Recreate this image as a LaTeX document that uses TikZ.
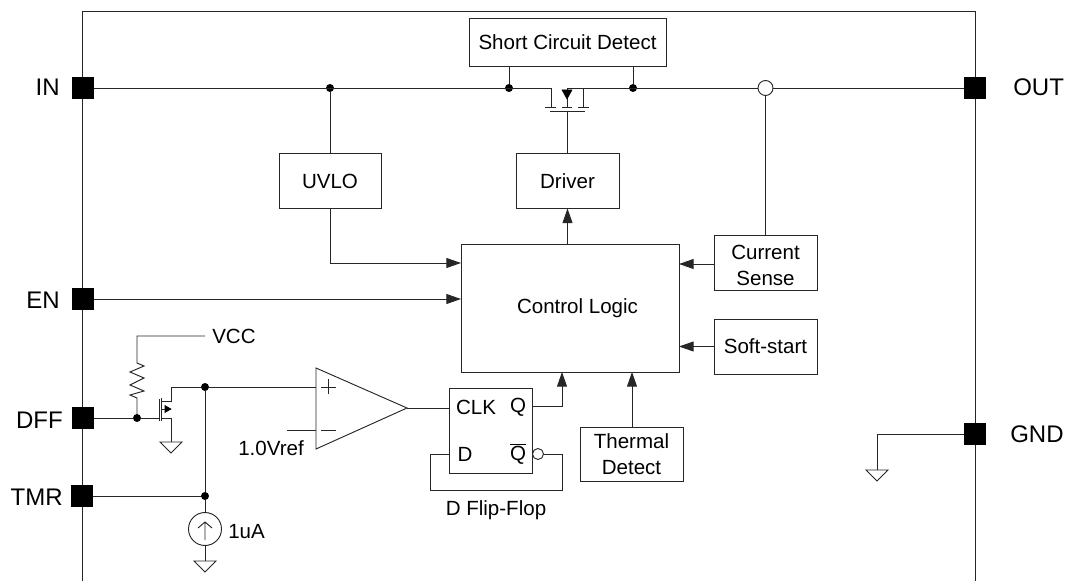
\documentclass[tikz,border=0pt]{standalone}
\usepackage{fontspec}
\setmainfont{Liberation Sans}
\usetikzlibrary{arrows.meta}
\begin{document}
\begin{tikzpicture}[
    x=0.75pt,
    y=-0.75pt,
    wire/.style={line width=0.7pt, draw=black!85},
    flow/.style={wire, -{Triangle[length=11pt,width=7.5pt]}},
    block/.style n args={2}{
        draw=black!85,
        line width=0.7pt,
        rectangle,
        align=center,
        font=\fontsize{15.4}{19}\selectfont,
        inner sep=0pt,
        outer sep=0pt,
        minimum width=#1*0.75pt,
        minimum height=#2*0.75pt
    },
    pin/.style={fill=black, rectangle, inner sep=0pt, outer sep=0pt, minimum size=16.5pt},
    pinlabel/.style={font=\fontsize{18}{20}\selectfont, inner sep=0pt},
    label/.style={font=\fontsize{15.4}{19}\selectfont, align=center, inner sep=0pt},
    dot/.style={fill=black, circle, inner sep=0pt, outer sep=0pt, minimum size=6pt},
    hollow/.style={wire, fill=white, circle, inner sep=0pt, outer sep=0pt, minimum size=#1*0.75pt},
    gnd/.pic={\draw[wire] (-11,0) -- (11,0) -- (0,11) -- cycle;}
]

\useasboundingbox (0,0) rectangle (1069,581);

\draw[wire] (82,581) -- (82,11) -- (975,11) -- (975,581);

\node[pin] (in) at (83,88) {};
\node[pin] (en) at (83,299) {};
\node[pin] (dff) at (83,418) {};
\node[pin] (tmr) at (82,496) {};
\node[pin] (out) at (975,88) {};
\node[pin] (gndpin) at (975,434) {};
\node[pinlabel, anchor=east] (inlabel) at (60,87) {IN};
\node[pinlabel, anchor=east] (enlabel) at (60,300) {EN};
\node[pinlabel, anchor=east] (dfflabel) at (63,420) {DFF};
\node[pinlabel, anchor=east] (tmrlabel) at (63,497) {TMR};
\node[pinlabel, anchor=west] (outlabel) at (1013,87) {OUT};
\node[pinlabel, anchor=west] (gndlabel) at (1010,434) {GND};

\node[block={197}{48}] (short) at (567.5,42) {Short Circuit Detect};
\node[block={102}{55}] (uvlo) at (330,181) {UVLO};
\node[block={103}{55}] (driver) at (567.5,181) {Driver};
\node[block={218}{128}] (logic) at (570,308) {};
\node[label] (logiclabel) at (577.5,308) {Control Logic};
\node[block={103}{55}] (sense) at (765.5,262.5) {};
\node[label] (senselabel) at (765.5,265.5) {Current\\Sense};
\node[block={103}{55}] (soft) at (765.5,346.5) {Soft-start};
\node[block={103}{54}] (thermal) at (631.5,454) {Thermal\\Detect};
\node[block={83}{85}] (flop) at (490.5,430.5) {};
\node[label] (clk) at (476,407) {CLK};
\node[label] (q) at (518,407) {Q};
\node[label] (d) at (465,454) {D};
\node[label] (qbar) at (518,454) {$\overline{\mbox{Q}}$};
\node[label] (flopname) at (496,510) {D Flip-Flop};

\node[dot] (j1) at (330,88) {};
\node[dot] (j2) at (509,88) {};
\node[dot] (j3) at (633,88) {};
\node[dot] (j4) at (137,418) {};
\node[dot] (j5) at (205,387) {};
\node[dot] (j6) at (205,496) {};
\node[hollow=15] (cross) at (765.5,88) {};
\node[hollow=11] (bubble) at (538,454) {};

\coordinate (drain) at (551,88);
\coordinate (source) at (567,88);
\coordinate (gate) at (567,111);
\coordinate (plus) at (316,387);
\coordinate (minus) at (316,430);
\coordinate (tip) at (407,408);

\draw[wire] (in) -- (drain) -- (551,107);
\draw[wire] (545,107) -- (556,107);
\draw[wire] (562,107) -- (572,107);
\draw[wire] (578,107) -- (589,107);
\draw[wire] (550,111) -- (585,111);
\draw[wire] (583,107) -- (583,88) -- (source) -- (567,107);
\draw[fill=black] (562,90) -- (572,90) -- (567,99) -- cycle;
\draw[wire] (583,88) -- (cross);
\draw[wire] (cross) -- (out);
\draw[wire] (short.south -| j2) -- (j2);
\draw[wire] (short.south -| j3) -- (j3);
\draw[wire] (driver.north -| gate) -- (gate);
\draw[wire] (j1) -- (uvlo);
\draw[flow] (uvlo.south) |- (logic.west |- 0,263);
\draw[flow] (en) -- (logic.west |- en);
\draw[flow] (logic.north -| driver) -- (driver);
\draw[wire] (sense.north -| cross) -- (cross);
\draw[flow] (sense.west |- 0,264) -- (logic.east |- 0,264);
\draw[flow] (soft) -- (logic.east |- soft);
\draw[flow] (thermal.north -| 632,0) -- (logic.south -| 632,0);

\draw[wire] (316,368) -- (316,449) -- (tip) -- cycle;
\draw[wire] (j5) -- (plus);
\draw[wire] (321,387) -- (336,387);
\draw[wire] (328,379) -- (328,394);
\draw[wire] (287,430) -- (minus);
\draw[wire] (321,430) -- (336,430);
\node[label] (vref) at (271,448) {1.0Vref};
\draw[wire] (tip) -- (flop.west |- tip);
\draw[flow] (flop.east |- 0,406) -- (562,406) -- (logic.south -| 562,0);
\draw[wire] (bubble) -- (562,454) -- (562,490) -- (430,490) -- (430,454) -- (flop.west |- bubble);

\draw[wire] (dff) -- (j4) -- (159,418);
\draw[wire] (159,399) -- (159,421);
\draw[wire] (161,398) -- (161,421);
\draw[wire] (j5) -- (171,387) -- (171,401) -- (161,401);
\draw[wire] (161,418) -- (171,418) -- (171,442);
\draw[wire] (161,409) -- (171,409);
\draw[fill=black] (171,409) -- (165,405.5) -- (165,412.5) -- cycle;
\pic at (171,442) {gnd};
\draw[wire] (j4) -- (137,398) -- (130,395) -- (144,391) -- (130,385) -- (144,378) -- (130,372) -- (144,366) -- (137,363) -- (137,336) -- (205,336);
\node[label, anchor=west] (vcc) at (212,336) {VCC};

\draw[wire] (tmr) -- (j6);
\draw[wire] (j5) -- (j6);
\node[hollow=33] (isrc) at (205,529) {};
\draw[wire] (j6) -- (isrc);
\draw[wire] (205,540) -- (205,522) (198,528) -- (205,522) -- (212,528);
\draw[wire] (isrc) -- (205,561);
\pic at (205,561) {gnd};
\node[label, anchor=west] (isrclabel) at (228,532) {1uA};

\draw[wire] (gndpin) -| (877,470);
\pic at (877,470) {gnd};

\end{tikzpicture}
\end{document}
